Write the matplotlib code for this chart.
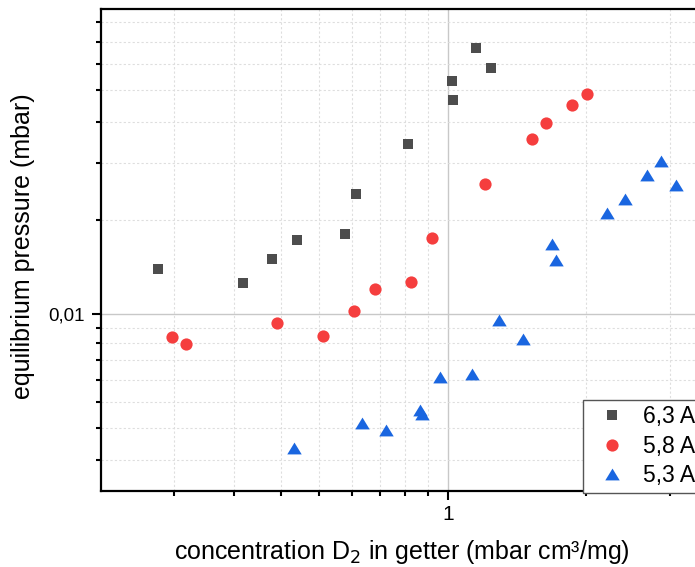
import matplotlib
matplotlib.use("Agg")
import matplotlib.pyplot as plt
from matplotlib.ticker import FixedLocator, FixedFormatter, NullFormatter

plt.rcParams['font.family'] = ['Liberation Sans', 'DejaVu Sans']

# data (x: mbar cm3/mg, y: mbar)
sq_x = [0.260, 0.386, 0.443, 0.497, 0.619, 0.654, 0.832, 1.017, 1.021, 1.136, 1.221]
sq_y = [0.01365, 0.01241, 0.01462, 0.01655, 0.01733, 0.02269, 0.0320, 0.0490, 0.0430, 0.0615, 0.0534]

ci_x = [0.278, 0.296, 0.452, 0.560, 0.645, 0.712, 0.844, 0.927, 1.186, 1.473, 1.574, 1.774, 1.906]
ci_y = [0.00857, 0.00817, 0.00945, 0.00865, 0.0102, 0.0119, 0.01243, 0.01678, 0.0243, 0.0331, 0.0369, 0.0415, 0.0448]

tr_x = [0.489, 0.672, 0.751, 0.877, 0.886, 0.962, 1.115, 1.265, 1.413, 1.616, 1.649, 2.086, 2.275, 2.519, 2.681, 2.878]
tr_y = [0.00401, 0.00477, 0.00454, 0.00520, 0.00506, 0.00652, 0.00665, 0.00964, 0.00845, 0.01614, 0.01445, 0.0200, 0.0219, 0.0258, 0.0284, 0.0241]

labels = ["6,3 A", "5,8 A", "5,3 A"]

x_major = [1]
x_major_labels = ["1"]
y_major = [0.01]
y_major_labels = ["0,01"]
# minor ticks split each decade in equal linear steps, like the original software
x_minor = [0.1 + 0.09 * j for j in range(1, 10)] + [1 + 0.9 * j for j in range(1, 5)]
y_minor = [0.001 + 0.0009 * j for j in range(1, 10)] + [0.01 + 0.009 * j for j in range(1, 8)]

W, H = 695, 567
fig = plt.figure(figsize=(W / 100, H / 100), dpi=100)
ax = fig.add_axes([101 / W, (H - 491) / H, 646 / W, 482 / H])
ax.set_xscale('log')
ax.set_yscale('log')

tri = [(-1, -0.82), (1, -0.82), (0, 0.82)]
ax.plot(sq_x, sq_y, ls='none', marker='s', ms=7.7, color='#4d4d4d', mew=0, label=labels[0], zorder=3)
ax.plot(ci_x, ci_y, ls='none', marker='o', ms=8.8, color='#f53e3e', mew=0, label=labels[1], zorder=3)
ax.plot(tr_x, tr_y, ls='none', marker=tri, ms=10.4, color='#1a66e0', mew=0, label=labels[2], zorder=3)

ax.set_xlim(0.2, 4.0)
ax.set_ylim(0.003, 0.08)

ax.xaxis.set_major_locator(FixedLocator(x_major))
ax.xaxis.set_major_formatter(FixedFormatter(x_major_labels))
ax.xaxis.set_minor_locator(FixedLocator(x_minor))
ax.xaxis.set_minor_formatter(NullFormatter())
ax.yaxis.set_major_locator(FixedLocator(y_major))
ax.yaxis.set_major_formatter(FixedFormatter(y_major_labels))
ax.yaxis.set_minor_locator(FixedLocator(y_minor))
ax.yaxis.set_minor_formatter(NullFormatter())

ax.tick_params(which='major', direction='out', length=6.8, width=1.5)
ax.tick_params(which='minor', direction='out', length=3.6, width=1.5)
ax.tick_params(axis='x', which='major', pad=3.5, labelsize=15)
ax.tick_params(axis='y', which='major', pad=5, labelsize=13.5)

ax.grid(which='major', color='#c8c8c8', lw=1.0, ls='-')
ax.grid(which='minor', color='#dedede', lw=0.8, ls=(0, (2, 2)))
ax.set_axisbelow(True)

for s in ax.spines.values():
    s.set_linewidth(1.6)

fig.text(23 / W, 1 - 246 / H, "equilibrium pressure (mbar)", rotation=90,
         ha='center', va='center', fontsize=18)
fig.text(402 / W, 1 - 552 / H, "concentration D$_2$ in getter (mbar cm³/mg)",
         ha='center', va='center', fontsize=18)

leg = ax.legend(loc='upper left', bbox_to_anchor=(583 / W, 1 - 400 / H),
                bbox_transform=fig.transFigure, fontsize=16.5, frameon=True,
                fancybox=False, edgecolor='#555555', framealpha=1,
                handletextpad=0.35, borderpad=0.24, labelspacing=0.28,
                handlelength=2.03, borderaxespad=0)
leg.get_frame().set_linewidth(1.0)

fig.savefig("out.png", dpi=100)
